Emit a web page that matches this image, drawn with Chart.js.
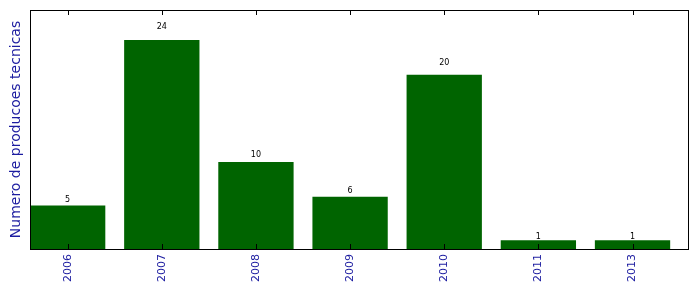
<!DOCTYPE html>
<html><head><meta charset="utf-8">
<script src="https://cdn.jsdelivr.net/npm/chart.js@4/dist/chart.umd.min.js"></script>
<style>html,body{margin:0;padding:0;background:#fff}#w{width:699px;height:292px}</style>
</head><body><div id="w"><canvas id="c"></canvas></div>
<script>
const categories = ["2006","2007","2008","2009","2010","2011","2013"];
const values = [5,24,10,6,20,1,1];
const yMax = 27.45;

const frame = {
  id:'frame',
  afterDatasetsDraw(chart){
    const {ctx, chartArea:a, scales:{x,y}} = chart;
    ctx.save();
    ctx.strokeStyle='#000'; ctx.lineWidth=1;
    ctx.strokeRect(Math.round(a.left)+0.5, Math.round(a.top)+0.5, Math.round(a.right-a.left)-1, Math.round(a.bottom-a.top));
    ctx.beginPath();
    categories.forEach((c,i)=>{
      const px = Math.round(x.getPixelForValue(i))+0.5;
      ctx.moveTo(px,a.top); ctx.lineTo(px,a.top+5);
      ctx.moveTo(px,a.bottom); ctx.lineTo(px,a.bottom-5);
    });
    ctx.stroke();
    ctx.fillStyle='#000'; ctx.font='8px "DejaVu Sans"'; ctx.textAlign='center'; ctx.textBaseline='alphabetic';
    values.forEach((v,i)=>{
      ctx.fillText(String(v), x.getPixelForValue(i), y.getPixelForValue(v*1.05)-1);
    });
    ctx.restore();
  }
};

new Chart(document.getElementById('c'), {
  type:'bar',
  data:{datasets:[{data: values.map((v,i)=>({x:i,y:v})), backgroundColor:'#006400', borderWidth:0, barPercentage:0.8, categoryPercentage:1}]},
  options:{
    responsive:true, maintainAspectRatio:false, animation:false,
    layout:{padding:{top:10,right:10,left:0,bottom:0}},
    plugins:{legend:{display:false}, tooltip:{enabled:false}},
    scales:{
      x:{type:'linear', offset:false, min:-0.4, max:6.6, grid:{display:false, drawTicks:false, offset:false}, border:{display:false},
        afterBuildTicks(s){ s.ticks = categories.map((c,i)=>({value:i})); },
        afterFit(s){ s.height = 43; },
        ticks:{autoSkip:false, maxRotation:90, minRotation:90, padding:5, color:'#1c1ca0', font:{family:'DejaVu Sans', size:11},
          callback:(v)=>categories[v]}},
      y:{min:0, max:yMax, grid:{display:false, drawTicks:false}, border:{display:false},
        ticks:{display:false},
        afterFit(s){ s.width = 30; },
        title:{display:true, text:'Numero de producoes tecnicas', color:'#1c1ca0', font:{family:'DejaVu Sans', size:14}, padding:{top:8,bottom:0}}}
    }
  },
  plugins:[frame]
});
</script></body></html>
